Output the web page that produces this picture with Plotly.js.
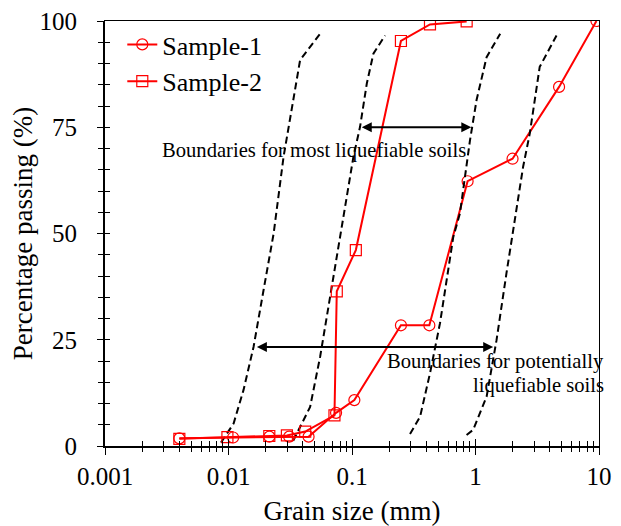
<!DOCTYPE html>
<html>
<head>
<meta charset="utf-8">
<script src="https://cdn.plot.ly/plotly-3.0.1.min.js"></script>
<style>html,body{margin:0;padding:0;background:#fff;}#chart{width:621px;height:526px;}</style>
</head>
<body>
<div id="chart"></div>
<script>
// ---- data ----
const sample1X = [0.004, 0.0109, 0.0214, 0.031, 0.0445, 0.0743, 0.1045, 0.249, 0.423, 0.863, 1.995, 4.75, 9.53];
const sample1Y = [1.8, 2.0, 2.2, 2.2, 2.2, 7.8, 10.8, 28.4, 28.4, 62.3, 67.6, 84.5, 100];
const sample2X = [0.004, 0.0098, 0.0214, 0.0297, 0.0418, 0.0721, 0.0753, 0.1074, 0.249, 0.428, 0.848];
const sample2Y = [1.7, 2.1, 2.35, 2.5, 3.4, 7.2, 36.4, 46.1, 95.3, 99.2, 99.9];

const bound1X = [0.00869, 0.0110, 0.01324, 0.01595, 0.01923, 0.0232, 0.0279, 0.0336, 0.038, 0.0458, 0.0552];
const bound1Y = [0.8, 5.3, 13.2, 23.3, 36.7, 50.0, 68.0, 81.4, 90.8, 93.9, 97.0];
const bound2X = [0.0334, 0.0458, 0.0552, 0.0665, 0.0828, 0.1026, 0.1162, 0.1318, 0.149, 0.1852];
const bound2Y = [1.2, 9.2, 21.0, 35.1, 50.8, 68.0, 75.1, 85.3, 92.3, 96.6];
const bound3X = [0.295, 0.356, 0.428, 0.516, 0.661, 0.748, 0.902, 1.02, 1.23, 1.585];
const bound3Y = [2.8, 6.9, 17.1, 28.9, 49.2, 54.7, 71.9, 81.4, 91.5, 97.0];
const bound4X = [0.847, 0.957, 1.23, 1.48, 1.78, 2.02, 2.43, 2.75, 3.31, 4.53];
const bound4Y = [2.6, 3.8, 11.6, 24.9, 40.6, 50.8, 65.7, 73.5, 89.2, 96.6];

const arrowMostX = [0.1167, 0.925];
const arrowMostY = 75;
const arrowPotX = [0.0165, 1.39];
const arrowPotY = 23.3;

const xTickVals = [0.001, 0.01, 0.1, 1, 10];
const xTickText = ['0.001', '0.01', '0.1', '1', '10'];
const yTickVals = [0, 25, 50, 75, 100];
const yTickText = ['0', '25', '50', '75', '100'];
const minorMult = [2, 3, 4, 5, 6, 7, 8, 9];

const textMost = 'Boundaries for most liquefiable soils';
const textPot1 = 'Boundaries for potentially';
const textPot2 = 'liquefiable soils';
// --------------------------------------

const xMinor = [];
xTickVals.slice(0, -1).forEach(d => minorMult.forEach(m => xMinor.push(d * m)));
const yMinor = [];
for (let v = 0; v <= 100; v += 5) if (v % 25) yMinor.push(v);

const FONT = 'Liberation Serif, Times New Roman, serif';
const RED = '#ff0000';

const dashLine = {color: '#000', width: 2, dash: '7px,4px'};
const boundTrace = (x, y, xa, ya) => ({x, y, type: 'scatter', mode: 'lines', line: dashLine,
  showlegend: false, hoverinfo: 'skip', xaxis: xa, yaxis: ya});

const traces = [
  boundTrace(bound1X, bound1Y, 'x', 'y'),
  boundTrace(bound2X, bound2Y, 'x', 'y'),
  boundTrace(bound3X, bound3Y, 'x3', 'y3'),
  boundTrace(bound4X, bound4Y, 'x3', 'y3'),
  {x: sample1X, y: sample1Y, type: 'scatter', mode: 'lines+markers', name: 'Sample-1',
   line: {color: RED, width: 2}, marker: {symbol: 'circle-open', size: 11, color: RED, line: {width: 1.2}},
   xaxis: 'x2', yaxis: 'y2'},
  {x: sample2X, y: sample2Y, type: 'scatter', mode: 'lines+markers', name: 'Sample-2',
   line: {color: RED, width: 2}, marker: {symbol: 'square-open', size: 11, color: RED, line: {width: 1.2}},
   xaxis: 'x2', yaxis: 'y2'}
];

const lg = Math.log10;
const xRange = [lg(xTickVals[0]), lg(xTickVals[xTickVals.length - 1])];
const yRange = [yTickVals[0], yTickVals[yTickVals.length - 1]];

const baseX = {type: 'log', range: xRange, showgrid: false, zeroline: false, tickmode: 'array', tickvals: xTickVals};
const baseY = {range: yRange, showgrid: false, zeroline: false, tickmode: 'array', tickvals: yTickVals};

const layout = {
  width: 621, height: 526,
  margin: {l: 104.5, r: 21.7, t: 20.7, b: 80},
  paper_bgcolor: '#fff', plot_bgcolor: '#fff',
  font: {family: FONT, color: '#000', size: 25},
  showlegend: true,
  legend: {x: 0.035, y: 1.0, xanchor: 'left', yanchor: 'top', bgcolor: 'rgba(0,0,0,0)',
           font: {family: FONT, size: 26, color: '#000'}, borderwidth: 0},
  // main axes: thick lines, outward ticks
  xaxis: Object.assign({}, baseX, {
    showticklabels: false,
    ticks: 'outside', ticklen: 7, tickwidth: 1, tickcolor: '#000',
    minor: {tickmode: 'array', tickvals: xMinor, ticks: 'outside', ticklen: 4, tickwidth: 1, tickcolor: '#000', showgrid: false},
    showline: true, linewidth: 2, linecolor: '#000'
  }),
  yaxis: Object.assign({}, baseY, {
    showticklabels: false,
    ticks: 'outside', ticklen: 6, tickwidth: 1, tickcolor: '#000',
    minor: {tickmode: 'array', tickvals: yMinor, ticks: 'outside', ticklen: 5, tickwidth: 1, tickcolor: '#000', showgrid: false},
    showline: true, linewidth: 2, linecolor: '#000'
  }),
  // overlay axes: inward ticks + thin frame on top/right
  xaxis2: Object.assign({}, baseX, {
    overlaying: 'x', anchor: 'y2', side: 'bottom', showticklabels: false,
    ticks: 'inside', ticklen: 7, tickwidth: 1, tickcolor: '#000',
    minor: {tickmode: 'array', tickvals: xMinor, ticks: 'inside', ticklen: 5, tickwidth: 1, tickcolor: '#000', showgrid: false},
    showline: true, linewidth: 1, linecolor: '#000', mirror: true
  }),
  yaxis2: Object.assign({}, baseY, {
    overlaying: 'y', anchor: 'x2', side: 'left', showticklabels: false,
    ticks: 'inside', ticklen: 5, tickwidth: 1, tickcolor: '#000',
    minor: {tickmode: 'array', tickvals: yMinor, ticks: 'inside', ticklen: 5, tickwidth: 1, tickcolor: '#000', showgrid: false},
    showline: true, linewidth: 1, linecolor: '#000', mirror: true,
    title: {text: 'Percentage passing (%)', font: {family: FONT, size: 27, color: '#000'}, standoff: 63},
    automargin: false
  }),
  // label axes
  xaxis3: Object.assign({}, baseX, {
    overlaying: 'x', anchor: 'y3', side: 'bottom',
    ticktext: xTickText, ticks: 'outside', ticklen: 8, tickcolor: 'rgba(0,0,0,0)', showline: false,
    tickfont: {family: FONT, size: 25, color: '#000'},
    title: {text: 'Grain size (mm)', font: {family: FONT, size: 27, color: '#000'}},
    automargin: false
  }),
  yaxis3: Object.assign({}, baseY, {
    overlaying: 'y', anchor: 'x3', side: 'left',
    ticktext: yTickText, ticks: 'outside', ticklen: 22, tickcolor: 'rgba(0,0,0,0)', showline: false,
    tickfont: {family: FONT, size: 25, color: '#000'},
    automargin: false
  }),
  annotations: [
    {xref: 'x', yref: 'y', axref: 'x', ayref: 'y',
     x: lg(arrowMostX[1]), y: arrowMostY, ax: lg(arrowMostX[0]), ay: arrowMostY,
     text: '', showarrow: true, arrowhead: 2, startarrowhead: 2, arrowside: 'end+start',
     arrowsize: 1, startarrowsize: 1, arrowwidth: 2, arrowcolor: '#000', standoff: 0, startstandoff: 0},
    {xref: 'x', yref: 'y', axref: 'x', ayref: 'y',
     x: lg(arrowPotX[1]), y: arrowPotY, ax: lg(arrowPotX[0]), ay: arrowPotY,
     text: '', showarrow: true, arrowhead: 2, startarrowhead: 2, arrowside: 'end+start',
     arrowsize: 1, startarrowsize: 1, arrowwidth: 2, arrowcolor: '#000', standoff: 0, startstandoff: 0},
    {xref: 'x', yref: 'y', x: -1.306, y: 69.5, text: textMost, showarrow: false,
     xanchor: 'center', yanchor: 'middle', font: {family: FONT, size: 20.6, color: '#000'}},
    {xref: 'x', yref: 'y', x: 1, y: 19.9, xshift: 7, text: textPot1, showarrow: false,
     xanchor: 'right', yanchor: 'middle', font: {family: FONT, size: 20.6, color: '#000'}},
    {xref: 'x', yref: 'y', x: 1, y: 14.2, xshift: 7, text: textPot2, showarrow: false,
     xanchor: 'right', yanchor: 'middle', font: {family: FONT, size: 20.6, color: '#000'}}
  ]
};

Plotly.newPlot('chart', traces, layout, {staticPlot: true, displayModeBar: false});
</script>
</body>
</html>
